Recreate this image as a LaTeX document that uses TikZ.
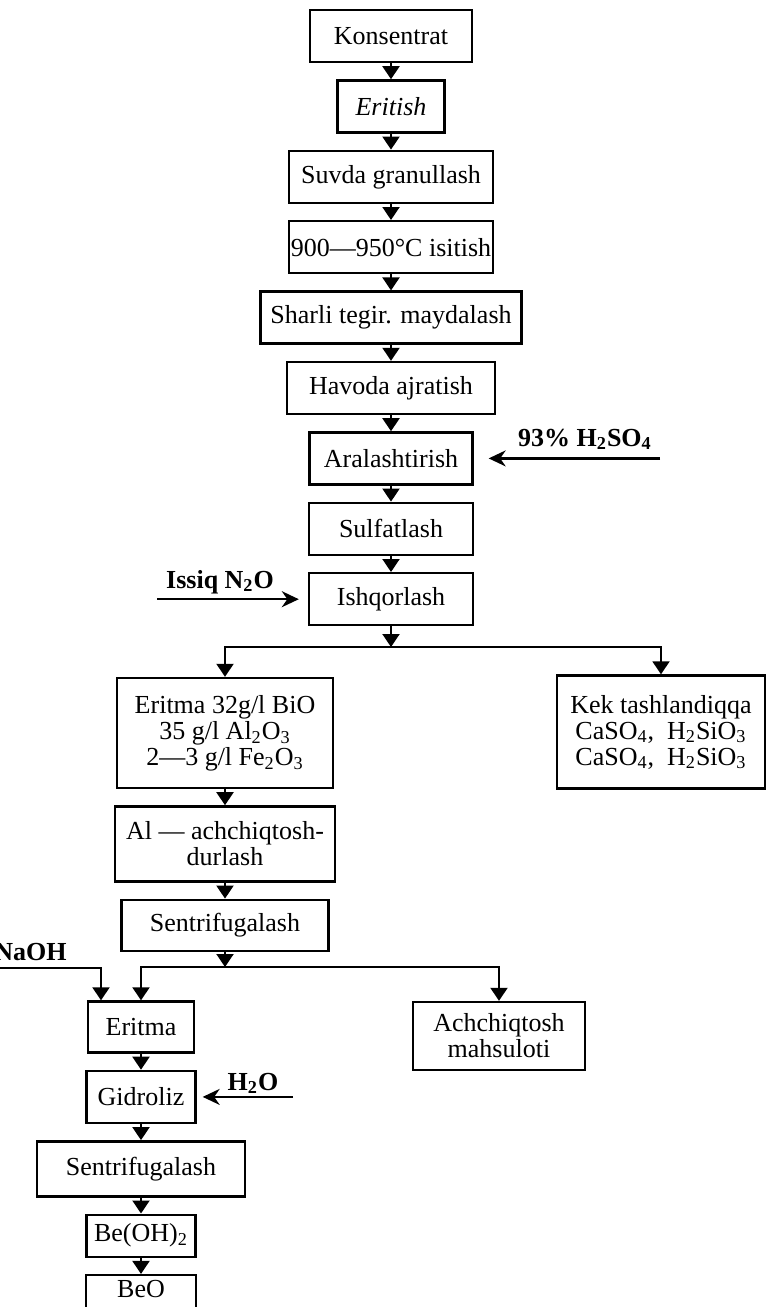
\documentclass[tikz,border=0pt]{standalone}
\usepackage{fontspec}
\setmainfont{Liberation Serif}
\usetikzlibrary{positioning,arrows.meta}
\tikzset{
  pbox/.style={draw=black,line width=1.2pt,align=center,inner sep=2pt,font=\fontsize{13}{13}\selectfont,minimum height=26pt},
  pflow/.style={-{Triangle[length=6.5pt,width=8.5pt]},line width=1pt},
  pside/.style={-{Stealth[length=8.5pt,width=8pt]},line width=1.1pt},
  plabel/.style={font=\fontsize{13}{13}\selectfont\bfseries,inner sep=0pt}
}
\begin{document}
\begin{tikzpicture}[x=0.5pt,y=-0.5pt,node distance=8pt]
  \useasboundingbox (0,0) rectangle (770,1307);
  % main line
  \node[pbox,minimum width=81pt] (kons) at (391,36) {Konsentrat};
  \node[pbox,minimum width=53.5pt,below=of kons] (erit) {\textit{Eritish}};
  \node[pbox,minimum width=102pt,below=of erit] (suvda) {Suvda granullash};
  \node[pbox,minimum width=101.5pt,inner sep=1pt,below=of suvda] (heat) {900---950\textdegree C isitish};
  \node[pbox,minimum width=130.5pt,below=of heat] (mill) {Sharli tegir. maydalash};
  \node[pbox,minimum width=104pt,below=of mill] (air) {Havoda ajratish};
  \node[pbox,minimum width=81.5pt,below=of air] (aral) {Aralashtirish};
  \node[pbox,minimum width=82pt,below=of aral] (sulf) {Sulfatlash};
  \node[pbox,minimum width=82pt,below=of sulf] (ishq) {Ishqorlash};
  % branches
  \node[pbox,minimum width=108pt,minimum height=55pt] (sol1) at (225,733) {Eritma 32g/l BiO\\35 g/l Al\textsubscript{2}O\textsubscript{3}\\2---3 g/l Fe\textsubscript{2}O\textsubscript{3}};
  \node[pbox,minimum width=104pt,minimum height=56.5pt] (cake) at (661,732) {Kek tashlandiqqa\\CaSO\textsubscript{4}, \ H\textsubscript{2}SiO\textsubscript{3}\\CaSO\textsubscript{4}, \ H\textsubscript{2}SiO\textsubscript{3}};
  \node[pbox,minimum width=110pt,minimum height=37.5pt,below=of sol1] (alum) {Al --- achchiqtosh-\\durlash};
  \node[pbox,minimum width=103.5pt,minimum height=25.5pt,below=of alum] (cent1) {Sentrifugalash};
  \node[pbox,minimum width=53pt,minimum height=25.5pt] (sol2) at (141,1027) {Eritma};
  \node[pbox,minimum width=86pt,minimum height=34pt] (alumprod) at (499,1036) {Achchiqtosh\\mahsuloti};
  \node[pbox,minimum width=54.5pt,below=of sol2] (hydro) {Gidroliz};
  \node[pbox,minimum width=104pt,minimum height=27.5pt,below=of hydro] (cent2) {Sentrifugalash};
  \node[pbox,minimum width=54.5pt,minimum height=21pt,below=of cent2] (beoh) {Be(OH)\textsubscript{2}};
  \node[pbox,minimum width=55pt,text height=9pt,text depth=16pt,below=of beoh] (beo) {BeO};
  % inputs
  \node[plabel,anchor=base] (acid) at (585,446) {93\% H\textsubscript{2}SO\textsubscript{4}};
  \node[plabel,anchor=base] (steam) at (220,588) {Issiq N\textsubscript{2}O};
  \node[plabel,anchor=base east] (naoh) at (67,960) {NaOH};
  \node[plabel,anchor=base] (water) at (253,1090) {H\textsubscript{2}O};
  \coordinate (acidin) at (660,0 |- aral.east);
  \coordinate (steamin) at (157,0 |- ishq.west);
  \coordinate (naohin) at (-10,968);
  \coordinate (waterin) at (293,0 |- hydro.east);
  \coordinate (split1) at (391,647);
  \coordinate (split2) at (225,967);
  % flow
  \draw[pflow] (kons) -- (erit);
  \draw[pflow] (erit) -- (suvda);
  \draw[pflow] (suvda) -- (heat);
  \draw[pflow] (heat) -- (mill);
  \draw[pflow] (mill) -- (air);
  \draw[pflow] (air) -- (aral);
  \draw[pflow] (aral) -- (sulf);
  \draw[pflow] (sulf) -- (ishq);
  \draw[pflow] (ishq) -- (split1);
  \draw[pflow] (split1) -| (sol1);
  \draw[pflow] (split1) -| (cake);
  \draw[pflow] (sol1) -- (alum);
  \draw[pflow] (alum) -- (cent1);
  \draw[pflow] (cent1) -- (split2);
  \draw[pflow] (split2) -| (sol2);
  \draw[pflow] (split2) -| (alumprod);
  \draw[pflow] (naohin) -| ([xshift=-20pt]sol2.north);
  \draw[pflow] (sol2) -- (hydro);
  \draw[pflow] (hydro) -- (cent2);
  \draw[pflow] (cent2) -- (beoh);
  \draw[pflow] (beoh) -- (beo);
  \draw[pside,shorten >=7.5pt] (acidin) -- (aral.east);
  \draw[pside,shorten >=4.5pt] (steamin) -- (ishq.west);
  \draw[pside,shorten >=3pt] (waterin) -- (hydro.east);
\end{tikzpicture}
\end{document}
